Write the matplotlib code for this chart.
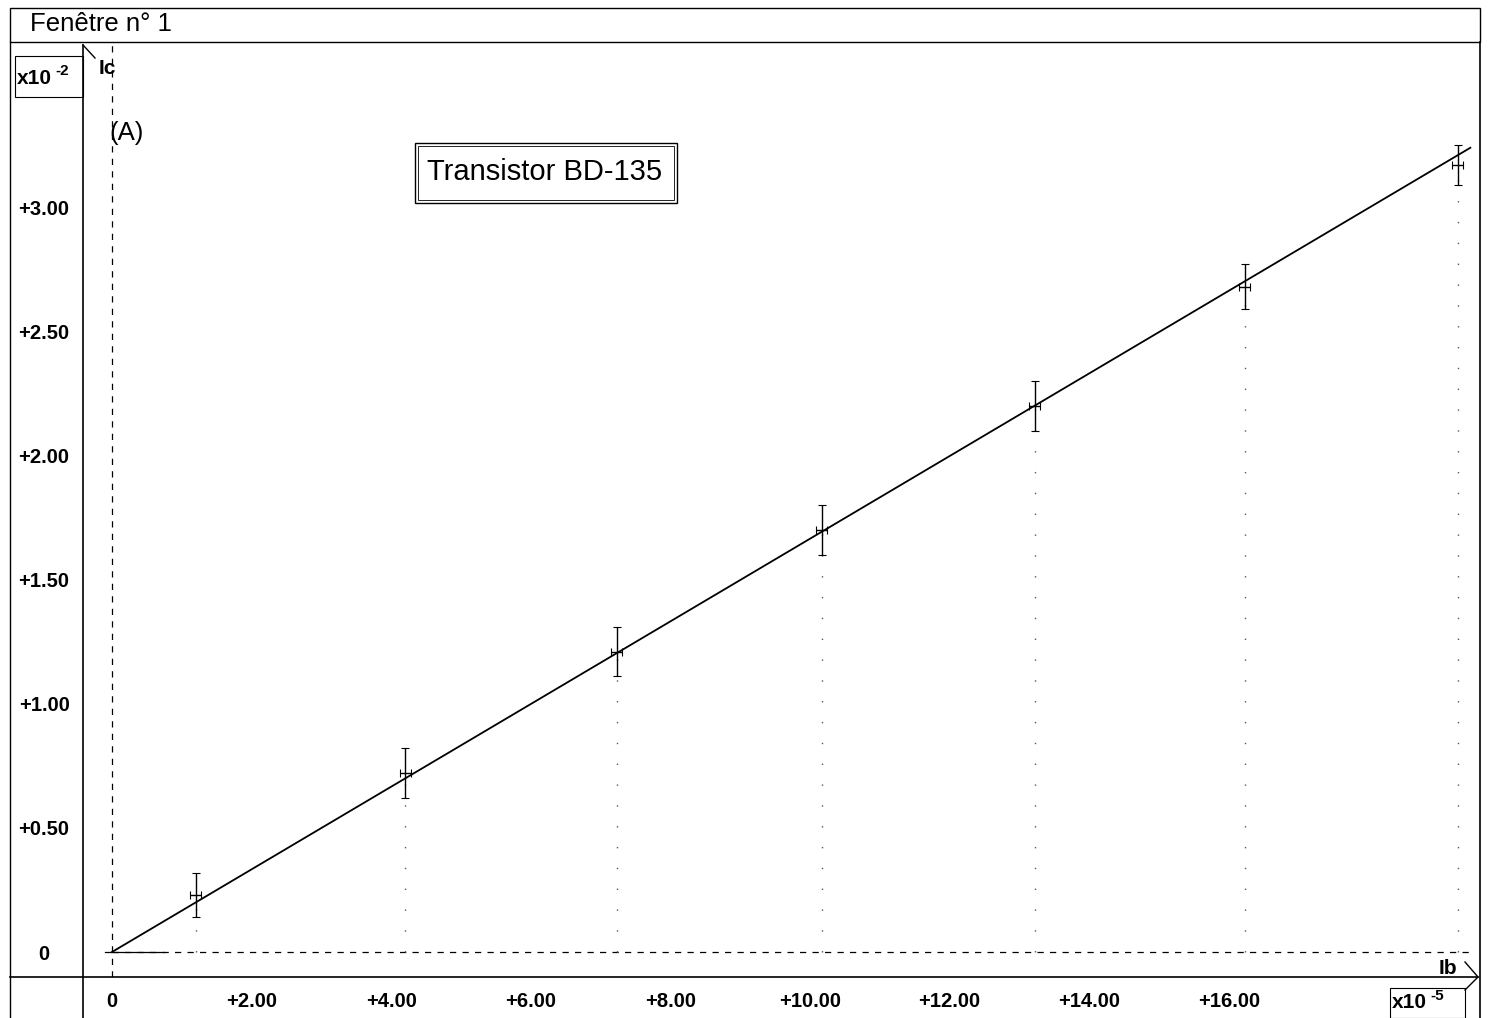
import matplotlib
matplotlib.use("Agg")
import matplotlib.pyplot as plt
from matplotlib.lines import Line2D
from matplotlib.patches import Rectangle

plt.rcParams["font.family"] = ["Liberation Sans", "DejaVu Sans"]

# ----------------------------------------------------
# Data (Ib in x10^-5 A, Ic in x10^-2 A)
# ----------------------------------------------------
ib_points = [1.20, 4.20, 7.23, 10.17, 13.22, 16.23, 19.28]
ic_points = [0.23, 0.72, 1.21, 1.70, 2.20, 2.68, 3.17]
ic_err = [0.09, 0.10, 0.10, 0.10, 0.10, 0.09, 0.08]

fit_x = [0.0, 19.46]
fit_y = [0.0, 3.24]

x_ticks = [0, 2, 4, 6, 8, 10, 12, 14, 16]
x_labels = ["0", "+2.00", "+4.00", "+6.00", "+8.00", "+10.00", "+12.00", "+14.00", "+16.00"]
y_ticks = [0, 0.5, 1.0, 1.5, 2.0, 2.5, 3.0]
y_labels = ["0", "+0.50", "+1.00", "+1.50", "+2.00", "+2.50", "+3.00"]

# ----------------------------------------------------
# Figure / helpers in pixel coordinates
# ----------------------------------------------------
W, H = 1488, 1018
fig = plt.figure(figsize=(W / 100, H / 100), dpi=100)


def fx(x):
    return x / W


def fy(y):
    return 1 - y / H


def fig_line(xs, ys, **kw):
    kw.setdefault("color", "black")
    kw.setdefault("lw", 1.0)
    fig.add_artist(Line2D([fx(v) for v in xs], [fy(v) for v in ys],
                          transform=fig.transFigure, **kw))


def fig_box(x0, y0, x1, y1, **kw):
    fig.add_artist(Rectangle((fx(x0), fy(y1)), fx(x1) - fx(x0), fy(y0) - fy(y1),
                             transform=fig.transFigure, fill=False,
                             edgecolor="black", **kw))


def multiplier(x, y, exp):
    # "x10" with a raised, smaller exponent (plain hyphen like the original)
    fig.text(fx(x), fy(y), "x10", fontsize=15, fontweight="bold",
             va="center", ha="left")
    fig.text(fx(x + 38), fy(y - 7), exp, fontsize=11, fontweight="bold",
             va="center", ha="left")


# window frame + title bar
fig_box(10, 8, 1480, 42, lw=1.0)
fig_line([10, 10], [42, 1018])
fig_line([1480, 1480], [42, 1018], lw=1.2)
fig.text(fx(30), fy(24), "Fenêtre n° 1", fontsize=18.5, va="center", ha="left")

# axis lines (extend beyond plot area like the original)
fig_line([83, 83], [45, 1018], lw=1.2)
fig_line([10, 1478], [977, 977], lw=1.2)
# arrow heads
fig_line([83, 95], [45, 58])
fig_line([1465, 1478, 1465], [962, 977, 990])

# multiplier boxes
fig_box(15, 56, 83, 97, lw=0.8)
multiplier(17, 78, "-2")
fig_box(1390, 988, 1465, 1018, lw=0.8)
multiplier(1392, 1003, "-5")

# axis names
fig.text(fx(99), fy(68), "Ic", fontsize=15, fontweight="bold", va="center")
fig.text(fx(1439), fy(969), "Ib", fontsize=15, fontweight="bold", va="center")

# ----------------------------------------------------
# Plot area
# ----------------------------------------------------
ax = fig.add_axes([fx(83), fy(977), (1478 - 83) / W, (977 - 45) / H])
ax.set_xlim(-0.415, 19.57)
ax.set_ylim(-0.1007, 3.654)
for s in ax.spines.values():
    s.set_visible(False)
ax.patch.set_alpha(0)

ax.set_xticks(x_ticks)
ax.set_xticklabels(x_labels, fontsize=14.5, fontweight="bold")
ax.set_yticks(y_ticks)
ax.set_yticklabels(y_labels, fontsize=14.5, fontweight="bold", ha="center")
ax.tick_params(axis="x", length=0, pad=11)
ax.tick_params(axis="y", length=0, pad=28)

# dashed origin lines
ax.axvline(0, color="black", lw=0.9, ls=(0, (5, 5)))
ax.plot([0, 19.5], [0, 0], color="black", lw=0.9, ls=(0, (5, 5)))
ax.plot([-0.1, 0.75], [0, 0], color="black", lw=0.9)

# faint dotted drop traces under each measurement
for xv, yv in zip(ib_points, ic_points):
    ax.plot([xv, xv], [0, yv], color="0.35", lw=1.0, ls=(0, (1, 14)))

# regression line
ax.plot(fit_x, fit_y, color="black", lw=1.3)

# measurement crosses
ax.errorbar(ib_points, ic_points, yerr=ic_err, xerr=0.08, fmt="none",
            ecolor="black", elinewidth=1.0, capsize=3, capthick=0.8)

ax.text(-0.03, 3.3, "(A)", fontsize=18.5, transform=ax.transData, ha="left", va="center")

# title box with double border
fig_box(415, 143, 677, 203, lw=1.0)
fig_box(418, 146, 674, 200, lw=0.6)
fig.text(fx(545), fy(172), "Transistor BD-135", fontsize=21, ha="center", va="center")

fig.savefig("out.png", dpi=100)
